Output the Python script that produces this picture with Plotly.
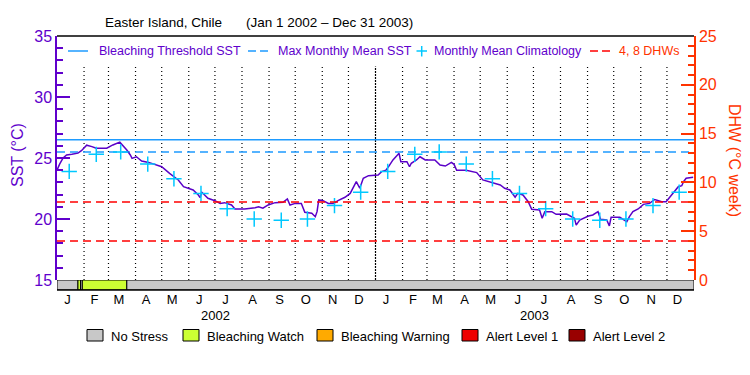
import plotly.graph_objects as go
import pandas as pd

# ---------------- data ----------------
period_start = "2002-01-01"
period_end = "2004-01-01"

# SST (°C), day offsets from Jan 1 2002
sst_day = [0, 3, 7, 11, 17, 24, 28, 34, 40, 45, 57, 64, 72, 75, 80, 84, 86, 91, 97, 105,
           112, 120, 129, 139, 145, 150, 156, 162, 164, 166, 173, 181, 187, 192, 200, 204,
           215, 227, 231, 236, 242, 250, 259, 264, 267, 273, 280, 284, 292, 296, 298, 300,
           305, 311, 317, 322, 330, 336, 341, 343, 347, 351, 357, 368, 372, 377, 380, 385,
           392, 394, 401, 404, 406, 412, 416, 422, 433, 439, 445, 452, 455, 458, 469, 481,
           488, 496, 502, 508, 513, 519, 525, 528, 534, 540, 544, 553, 556, 559, 567, 572,
           584, 590, 593, 595, 599, 609, 614, 620, 623, 630, 633, 635, 645, 653, 656, 660,
           666, 672, 679, 685, 693, 698, 706, 712, 716, 718, 721, 729]
sst_val = [24.0, 24.5, 25.0, 25.25, 25.3, 25.4, 25.6, 26.05, 25.93, 25.8, 25.8, 26.07, 26.3,
           26.07, 25.66, 25.25, 24.97, 25.1, 24.75, 24.64, 24.48, 24.28, 23.74, 23.2, 22.65,
           22.52, 22.38, 21.97, 21.75, 22.19, 21.7, 21.5, 21.28, 21.34, 21.15, 20.82, 20.82,
           20.93, 21.0, 20.88, 21.15, 21.34, 21.37, 21.64, 21.15, 21.28, 21.28, 20.55, 20.47,
           20.19, 20.6, 21.56, 21.5, 21.28, 21.28, 21.5, 21.78, 22.1, 22.79, 23.06, 22.52,
           23.34, 23.55, 23.6, 23.88, 24.0, 24.3, 24.84, 25.38, 24.7, 24.7, 24.28, 24.57,
           24.84, 25.1, 24.84, 24.84, 24.43, 24.34, 24.64, 24.48, 24.0, 24.0, 23.8, 23.2,
           23.06, 22.93, 22.79, 22.52, 22.38, 21.78, 22.1, 21.97, 21.42, 20.79, 20.74, 20.06,
           20.6, 20.6, 20.38, 20.41, 20.19, 20.06, 19.5, 19.92, 20.24, 20.33, 20.6, 19.97,
           19.92, 19.43, 20.14, 20.14, 19.78, 20.19, 20.6, 20.82, 21.2, 21.28, 21.6, 21.42,
           21.42, 22.1, 22.65, 22.73, 23.06, 23.34, 23.42]

clim_dates = ["2002-01-15", "2002-02-15", "2002-03-15", "2002-04-15", "2002-05-15", "2002-06-15",
              "2002-07-15", "2002-08-15", "2002-09-15", "2002-10-15", "2002-11-15", "2002-12-15",
              "2003-01-15", "2003-02-15", "2003-03-15", "2003-04-15", "2003-05-15", "2003-06-15",
              "2003-07-15", "2003-08-15", "2003-09-15", "2003-10-15", "2003-11-15", "2003-12-15"]
clim_val = [23.9, 25.3, 25.5, 24.5, 23.3, 22.1, 20.85, 20.0, 19.9, 20.0, 21.1, 22.2,
            23.9, 25.3, 25.5, 24.5, 23.3, 22.1, 20.85, 20.0, 19.9, 20.0, 21.1, 22.2]

bleaching_threshold = 26.5
max_monthly_mean = 25.5
dhw_levels = [4, 8]

stress_start = ["2002-01-01", "2002-01-25", "2002-01-28", "2002-01-30", "2002-03-22"]
stress_end = ["2002-01-25", "2002-01-28", "2002-01-30", "2002-03-22", "2004-01-01"]
stress_level = [0, 1, 0, 1, 0]
stress_names = ["No Stress", "Bleaching Watch", "Bleaching Warning", "Alert Level 1", "Alert Level 2"]
stress_colors = ["#c8c8c8", "#ccff33", "#ffaa00", "#ee0000", "#990000"]

month_starts = pd.date_range("2002-02-01", "2003-12-01", freq="MS").strftime("%Y-%m-%d").tolist()
month_ticks = [d.replace(day=13).strftime("%Y-%m-%d") for d in pd.date_range("2002-01-01", "2003-12-01", freq="MS")]
month_letters = ["J", "F", "M", "A", "M", "J", "J", "A", "S", "O", "N", "D"] * 2
year_labels = ["2002", "2003"]
year_centers = ["2002-07-02", "2003-07-02"]

title_place = "Easter Island, Chile"
title_period = "(Jan 1 2002 – Dec 31 2003)"

# ---------------- style ----------------
PURPLE = "#6000cc"
SSTLINE = "#5a00c8"
ORANGE = "#ff3300"
BLUE = "#1e9bff"
CYAN = "#00c8ff"
RED = "#ff0000"
FONT = "Liberation Sans"

OFF = 8  # page body margin
W, H = 750 - OFF, 375 - OFF
L, R, T, B = 57, 694, 36, 290  # plot area pixels in the reference
BAR_H = 10


def px(x):
    return (x - L) / (R - L)


def py(y):
    return (B - y) / (B - T)


sst_dates = (pd.Timestamp(period_start) + pd.to_timedelta(sst_day, unit="D")).strftime("%Y-%m-%d").tolist()

fig = go.Figure()

fig.add_trace(go.Scatter(x=[period_start, period_end], y=[bleaching_threshold] * 2, mode="lines",
                         line=dict(color=BLUE, width=1.5), showlegend=False, hoverinfo="skip"))
fig.add_trace(go.Scatter(x=[period_start, period_end], y=[max_monthly_mean] * 2, mode="lines",
                         line=dict(color=BLUE, width=1.5, dash="8px,5px"), showlegend=False, hoverinfo="skip"))
for lvl in dhw_levels:
    fig.add_trace(go.Scatter(x=[period_start, period_end], y=[lvl, lvl], mode="lines", yaxis="y2",
                             line=dict(color=RED, width=1.5, dash="8px,5px"), showlegend=False, hoverinfo="skip"))

fig.add_trace(go.Scatter(x=sst_dates, y=sst_val, mode="lines", line=dict(color=SSTLINE, width=1.5),
                         showlegend=False))
fig.add_trace(go.Scatter(x=clim_dates, y=clim_val, mode="markers",
                         marker=dict(symbol="cross-thin", size=11, line=dict(color=CYAN, width=1.5)),
                         showlegend=False))

shapes = []
for m in month_starts:
    dash = "2px,1px" if m == "2003-01-01" else "1px,3px"
    shapes.append(dict(type="line", xref="x", yref="y", x0=m, x1=m, y0=15, y1=32.5,
                       line=dict(color="black", width=1.2, dash=dash), layer="below"))
for s, e, lv in zip(stress_start, stress_end, stress_level):
    shapes.append(dict(type="rect", xref="x", yref="y3", x0=s, x1=e, y0=0, y1=1,
                       fillcolor=stress_colors[lv], line=dict(color="black", width=1)))
shapes.append(dict(type="line", xref="paper", yref="paper", x0=0, x1=1, y0=1, y1=1,
                   line=dict(color="black", width=1.5)))
shapes.append(dict(type="line", xref="paper", yref="paper", x0=0, x1=1, y0=0, y1=0,
                   line=dict(color="black", width=1.5)))

annotations = []
ly = py(51)
shapes.append(dict(type="line", xref="paper", yref="paper", x0=px(68), x1=px(88), y0=ly, y1=ly,
                   line=dict(color=BLUE, width=1.5)))
shapes.append(dict(type="line", xref="paper", yref="paper", x0=px(248), x1=px(268), y0=ly, y1=ly,
                   line=dict(color=BLUE, width=1.5, dash="8px,4px")))
shapes.append(dict(type="line", xref="paper", yref="paper", x0=px(416.5), x1=px(427), y0=ly, y1=ly,
                   line=dict(color=CYAN, width=1.5)))
shapes.append(dict(type="line", xref="paper", yref="paper", x0=px(421.7), x1=px(421.7), y0=py(46), y1=py(56.5),
                   line=dict(color=CYAN, width=1.5)))
shapes.append(dict(type="line", xref="paper", yref="paper", x0=px(590), x1=px(610), y0=ly, y1=ly,
                   line=dict(color=RED, width=1.5, dash="8px,4px")))
for txt, x0, col in [("Bleaching Threshold SST", 97, PURPLE), ("Max Monthly Mean SST", 276, PURPLE),
                     ("Monthly Mean Climatology", 432, PURPLE), ("4, 8 DHWs", 617, ORANGE)]:
    annotations.append(dict(text=txt, xref="paper", yref="paper", x=px(x0), y=ly, xanchor="left",
                            yanchor="middle", showarrow=False, font=dict(family=FONT, size=12.5, color=col)))

bx = [87, 183, 317, 462, 569]
for name, col, x0 in zip(stress_names, stress_colors, bx):
    shapes.append(dict(type="rect", xref="paper", yref="paper", x0=px(x0), x1=px(x0 + 16),
                       y0=py(341), y1=py(329.5), fillcolor=col, line=dict(color="black", width=1)))
    annotations.append(dict(text=name, xref="paper", yref="paper", x=px(x0 + 22), y=py(336),
                            xanchor="left", yanchor="middle", showarrow=False,
                            font=dict(family=FONT, size=13, color="black")))

for yl, yc in zip(year_labels, year_centers):
    annotations.append(dict(text=yl, xref="x", yref="paper", x=yc, y=py(315), xanchor="center",
                            yanchor="middle", showarrow=False, font=dict(family=FONT, size=13, color="black")))

annotations.append(dict(text=title_place, xref="paper", yref="paper", x=px(103), y=py(22),
                        xanchor="left", yanchor="middle", showarrow=False,
                        font=dict(family=FONT, size=13.5, color="black")))
annotations.append(dict(text=title_period, xref="paper", yref="paper", x=px(244), y=py(22),
                        xanchor="left", yanchor="middle", showarrow=False,
                        font=dict(family=FONT, size=13.5, color="black")))
annotations.append(dict(text="SST (°C)", xref="paper", yref="paper", x=px(17), y=py(155),
                        xanchor="center", yanchor="middle", textangle=-90, showarrow=False,
                        font=dict(family=FONT, size=16, color=PURPLE)))
annotations.append(dict(text="DHW (°C week)", xref="paper", yref="paper", x=px(735), y=py(160),
                        xanchor="center", yanchor="middle", textangle=90, showarrow=False,
                        font=dict(family=FONT, size=16, color=ORANGE)))

dom = BAR_H / (B - T)
fig.update_layout(
    width=W, height=H,
    margin=dict(l=L - OFF, r=W - (R - OFF), t=T - OFF, b=H - (B - OFF)),
    paper_bgcolor="white", plot_bgcolor="white",
    font=dict(family=FONT),
    showlegend=False,
    shapes=shapes, annotations=annotations,
    xaxis=dict(range=[period_start, period_end], type="date", anchor="y3",
               tickvals=month_ticks, ticktext=month_letters, ticks="", showgrid=False,
               showline=False, zeroline=False, tickangle=0,
               tickfont=dict(family=FONT, size=13, color="black")),
    yaxis=dict(domain=[dom, 1], range=[15, 35], tickvals=[15, 20, 25, 30, 35], ticks="inside",
               ticklen=13, tickwidth=1.5, tickcolor=PURPLE, showline=True, linecolor=PURPLE,
               linewidth=1.5, showgrid=False, zeroline=False,
               tickfont=dict(family=FONT, size=16, color=PURPLE),
               minor=dict(dtick=1, ticks="inside", ticklen=6, tickwidth=1.5, tickcolor=PURPLE, showgrid=False)),
    yaxis2=dict(overlaying="y", side="right", range=[0, 25], tickvals=[0, 5, 10, 15, 20, 25],
                ticks="inside", ticklen=13, tickwidth=1.5, tickcolor=ORANGE, showline=True,
                linecolor=ORANGE, linewidth=1.5, showgrid=False, zeroline=False,
                tickfont=dict(family=FONT, size=16, color=ORANGE),
                minor=dict(dtick=1, ticks="inside", ticklen=6, tickwidth=1.5, tickcolor=ORANGE, showgrid=False)),
    yaxis3=dict(domain=[0, dom], range=[0, 1], visible=False),
)

fig.write_html("out.html")
